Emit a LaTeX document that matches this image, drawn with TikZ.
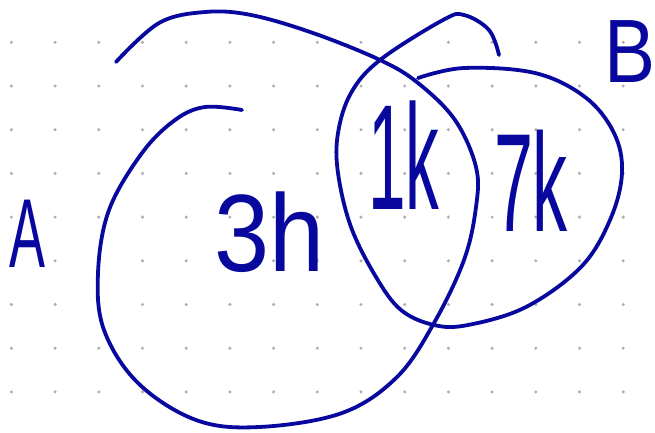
\documentclass[tikz,border=0pt]{standalone}
\usepackage{fontspec}
\setmainfont{Liberation Sans}
\definecolor{ink}{RGB}{8,8,158}
\definecolor{griddot}{RGB}{175,175,175}
\begin{document}
\begin{tikzpicture}[x=1pt,y=-1pt,
  stroke/.style={draw=ink,line width=3.8pt,line cap=round,line join=round},
  lbl/.style={text=ink,inner sep=0pt,anchor=center}]
\useasboundingbox (0,0) rectangle (655,432);
\fill[white] (0,0) rectangle (655,432);
\foreach \i in {0,...,14}{\foreach \j in {0,...,8}{\fill[griddot] ({11.4+43.7*\i},{42.3+43.7*\j}) circle (1.7);}}
% set A
\draw[stroke] plot[smooth,tension=0.6] coordinates {(116,62) (159,23) (205,12) (251,15) (313,33) (380,60) (418,83) (455,120) (476,167) (476,207) (464,260) (434,323) (397,377) (342,413) (259,427) (196,420) (138,383) (104,330) (98,273) (109,210) (142,153) (175,120) (205,107) (242,110)};
% set B
\draw[stroke] plot[smooth,tension=0.6] coordinates {(499,55) (489,30) (464,15) (443,20) (380,60) (351,93) (338,133) (338,173) (351,227) (376,277) (401,310) (434,325) (468,325) (526,307) (581,267) (610,220) (622,173) (614,133) (585,97) (535,73) (464,68) (418,78)};
\node[lbl,xscale=0.55] (la) at (27,234) {\fontsize{98}{98}\selectfont A};
\node[lbl,xscale=0.85] (lb) at (630,52) {\fontsize{90}{90}\selectfont B};
\node[lbl,xscale=0.9] (na) at (270,232) {\fontsize{110}{110}\selectfont 3h};
\node[lbl,xscale=0.45] (nab) at (404,155) {\fontsize{150}{150}\selectfont 1k};
\node[lbl,xscale=0.5] (nb) at (531,181) {\fontsize{140}{140}\selectfont 7k};
\end{tikzpicture}
\end{document}
